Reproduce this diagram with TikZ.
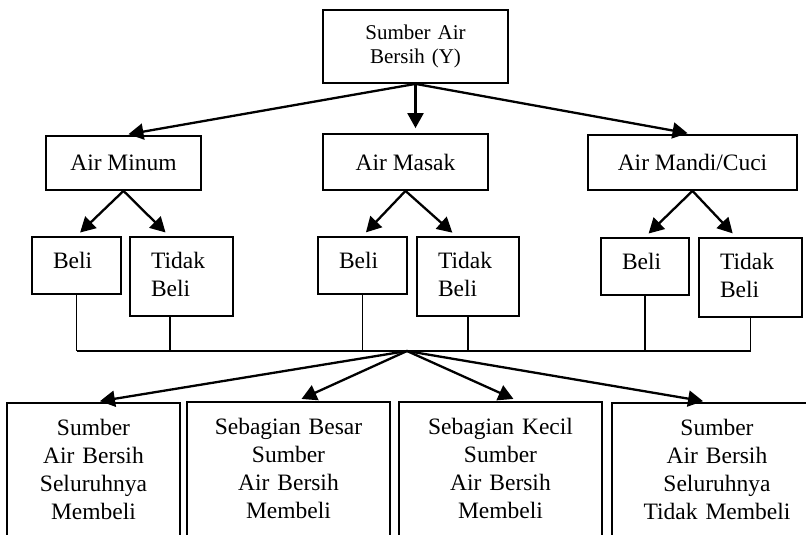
\documentclass[tikz,border=0pt]{standalone}
\usepackage{fontspec}
\setmainfont{Liberation Serif}
\usetikzlibrary{arrows.meta,calc}
\begin{document}
\begin{tikzpicture}[x=1pt,y=-1pt,
  box/.style={draw, line width=1.8pt, inner sep=0pt,
    font=\fontsize{23.5}{27.7}\selectfont},
  headbox/.style={box, align=center},
  choice/.style={box, anchor=north, align=left, inner xsep=21pt,
    inner ysep=16pt, text height=16pt},
  result/.style={box, anchor=north, align=center, inner xsep=0pt,
    inner ysep=17pt, text height=16pt, text depth=130pt},
  arr/.style={-{Triangle[length=15pt,width=16pt]}, line width=2.3pt,
    shorten >=5pt},
  bus/.style={line width=1.8pt}]
\useasboundingbox (0,0) rectangle (806,535);
\clip (0,0) rectangle (806,535);
\fill[white] (0,0) rectangle (806,535);

% root
\node[box, align=center, text width=160pt, minimum width=185pt,
  minimum height=73pt, font=\fontsize{21}{24}\selectfont]
  (top) at (415.5,46.5) {Sumber Air\\Bersih (Y)};

% uses of water
\node[headbox, minimum width=155pt, minimum height=54pt] (minum) at (123.5,163) {Air Minum};
\node[headbox, minimum width=165pt, minimum height=56pt] (masak) at (405.5,162) {Air Masak};
\node[headbox, minimum width=209pt, minimum height=55pt] (mandi) at (692.5,162.5) {Air Mandi/Cuci};

% buy / do not buy
\node[choice, text width=47pt, text depth=9pt]  (beli1)  at (76.5,236) {Beli};
\node[choice, text width=61pt, text depth=31pt] (tidak1) at (181.5,236) {Tidak\\Beli};
\node[choice, text width=47pt, text depth=9pt]  (beli2)  at (362.5,236) {Beli};
\node[choice, text width=60pt, text depth=31pt] (tidak2) at (468,236) {Tidak\\Beli};
\node[choice, text width=46pt, text depth=9pt]  (beli3)  at (645,237) {Beli};
\node[choice, text width=61pt, text depth=31pt] (tidak3) at (750.5,237) {Tidak\\Beli};

% outcomes
\node[result, text width=173pt] (res1) at (93.5,402) {Sumber\\Air Bersih\\Seluruhnya\\Membeli};
\node[result, text width=203pt] (res2) at (288.5,401) {Sebagian Besar\\Sumber\\Air Bersih\\Membeli};
\node[result, text width=203pt] (res3) at (500.5,401) {Sebagian Kecil\\Sumber\\Air Bersih\\Membeli};
\node[result, text width=210pt] (res4) at (717,402) {Sumber\\Air Bersih\\Seluruhnya\\Tidak Membeli};

% root to uses
\draw[arr] (top.south) -- (minum.north);
\draw[arr] (top.south) -- (top.south |- masak.north);
\draw[arr] (top.south) -- (mandi.north);

% uses to choices
\draw[arr] (minum.south) -- (beli1.north);
\draw[arr] (minum.south) -- ($(tidak1.north west)+(40,0)$);
\draw[arr] (masak.south) -- (beli2.north);
\draw[arr] (masak.south) -- ($(tidak2.north west)+(40,0)$);
\draw[arr] (mandi.south) -- (beli3.north);
\draw[arr] (mandi.south) -- ($(tidak3.north west)+(38,0)$);

% collecting bus
\coordinate (hub) at (407,351);
\coordinate (t1) at ($(tidak1.south west)+(41,0)$);
\draw[bus] (beli1.south) -- (beli1.south |- hub);
\draw[bus] (t1) -- (t1 |- hub);
\draw[bus] (beli2.south) -- (beli2.south |- hub);
\draw[bus] (tidak2.south) -- (tidak2.south |- hub);
\draw[bus] (beli3.south) -- (beli3.south |- hub);
\draw[bus] (tidak3.south) -- (tidak3.south |- hub);
\draw[bus] (beli1.south |- hub) -- (tidak3.south |- hub);

% bus to outcomes
\draw[arr] (hub) -- ($(res1.north)+(1.5,0)$);
\draw[arr] (hub) -- ($(res2.north)+(8.5,0)$);
\draw[arr] (hub) -- ($(res3.north)+(17.5,0)$);
\draw[arr] (hub) -- ($(res4.north)+(-9,0)$);
\end{tikzpicture}
\end{document}
